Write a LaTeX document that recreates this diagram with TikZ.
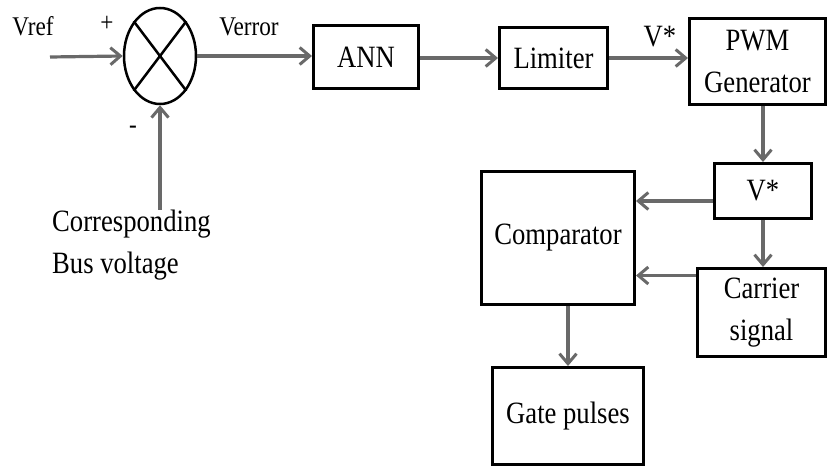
\documentclass[tikz,border=0pt]{standalone}
\usepackage{fontspec}
\setmainfont[FakeStretch=0.86]{Liberation Serif}
\usepackage{tikz}
\usetikzlibrary{calc,arrows.meta,shapes.geometric}
\definecolor{arrgray}{RGB}{105,105,105}

\begin{document}
\begin{tikzpicture}[x = 1pt, y = -1pt,
	box/.style = {draw, line width = 3pt, inner sep = 0pt, align = center,
		font = \fontsize{31}{42}\selectfont},
	arr/.style = {draw = arrgray, line width = 3.2pt,
		-{Straight Barb[length = 10pt, width = 17pt, line width = 3pt]}},
	lbl/.style = {inner sep = 0pt, font = \fontsize{27}{30}\selectfont}]
	\useasboundingbox (0, 0) rectangle (828, 468);

	% summing junction
	\node[draw, ellipse, line width = 2.5pt, minimum width = 72, minimum height = 96, inner sep = 0pt] (sum) at (160, 56){};
	\draw[line width = 2.5pt] (sum.north west) -- (sum.south east);
	\draw[line width = 2.5pt] (sum.north east) -- (sum.south west);
	\coordinate (vin) at (50, 57);
	\node[lbl] (vref) at (33, 26){Vref};
	\node[lbl] (plus) at (107, 24){+};
	\node[lbl] (minus) at (133, 130){-};
	\node[lbl, anchor = north west, align = left, font = \fontsize{31}{42}\selectfont] (bus) at (52, 210){Corresponding\\Bus voltage};

	% blocks
	\node[box, minimum width = 105, minimum height = 63] (ann) at (366, 57){ANN};
	\node[box, minimum width = 108, minimum height = 61] (lim) at (553.5, 58){Limiter};
	\node[box, minimum width = 136, minimum height = 86] (pwm) at (757.5, 61.5){PWM\\Generator};
	\node[box, minimum width = 97, minimum height = 55] (vstar) at (763, 191){V*};
	\node[box, minimum width = 153, minimum height = 133] (comp) at (558, 238){Comparator};
	\node[box, minimum width = 128, minimum height = 88] (car) at (761.5, 312.5){Carrier\\signal};
	\node[box, minimum width = 151, minimum height = 97] (gate) at (568, 416){Gate pulses};
	\node[lbl, font = \fontsize{31}{42}\selectfont] (vlbl) at (660, 37){V*};
	\node[lbl] (verr) at (249, 27){Verror};

	% connectors
	\draw[arr] (vin) -- (sum.west);
	\draw[arr] (sum.south |- bus.north) -- (sum.south);
	\draw[arr] (sum.east) -- (sum.east -| ann.west);
	\draw[arr] (ann.east |- lim.west) -- (lim.west);
	\draw[arr] (lim.east) -- (lim.east -| pwm.west);
	\draw[arr] (pwm.south -| vstar.north) -- (vstar.north);
	\draw[arr] ([yshift = -10pt]vstar.west) -- ([yshift = -10pt]vstar.west -| comp.east);
	\draw[arr] (vstar.south) -- (vstar.south |- car.north);
	\draw[arr] ([yshift = 37pt]car.west) -- ([yshift = 37pt]car.west -| comp.east);
	\draw[arr] (comp.south -| gate.north) -- (gate.north);
\end{tikzpicture}
\end{document}
